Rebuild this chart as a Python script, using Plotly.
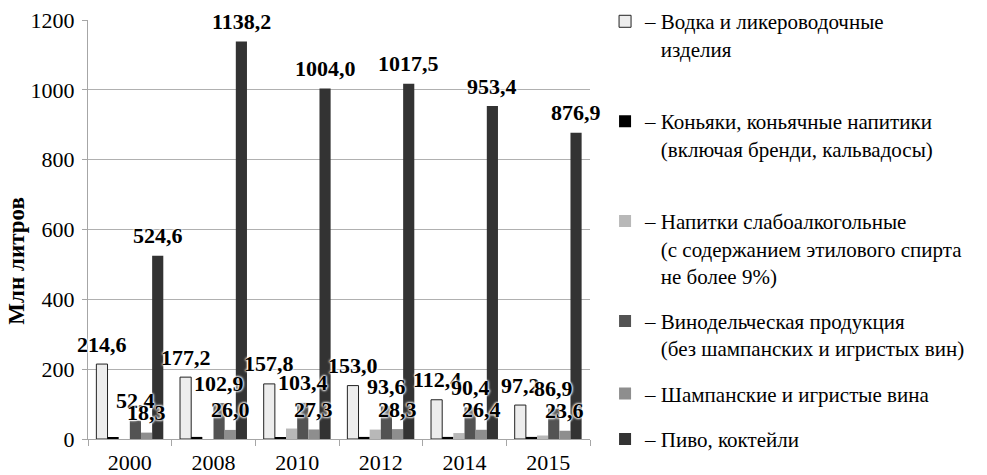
import plotly.graph_objects as go

years = ["2000", "2008", "2010", "2012", "2014", "2015"]
vodka = [214.6, 177.2, 157.8, 153.0, 112.4, 97.2]
cognac = [3, 6, 4, 6, 6, 6]
light = [0, 0, 30, 27, 17, 10]
wine = [52.4, 102.9, 103.4, 93.6, 90.4, 86.9]
champagne = [18.3, 26.0, 27.3, 28.3, 26.4, 23.6]
beer = [524.6, 1138.2, 1004.0, 1017.5, 953.4, 876.9]

IND = "\u00a0\u00a0\u00a0"
names = [
    "–\u00a0Водка и ликероводочные<br>" + IND + "изделия<br>\u00a0",
    "–\u00a0Коньяки, коньячные напитики<br>" + IND + "(включая бренди, кальвадосы)<br>\u00a0",
    "–\u00a0Напитки слабоалкогольные<br>" + IND + "(с содержанием этилового спирта<br>" + IND + "не более 9%)",
    "–\u00a0Винодельческая продукция<br>" + IND + "(без шампанских и игристых вин)",
    "–\u00a0Шампанские и игристые вина",
    "–\u00a0Пиво, коктейли",
]
series = [vodka, cognac, light, wine, champagne, beer]
colors = ["#ededed", "#000000", "#b8b8b8", "#535353", "#8e8e8e", "#333333"]
line_w = [1, 0, 0, 0, 0, 0]
labelled = [0, 3, 4, 5]

FONT = "Liberation Serif"
bargap = 0.2

fig = go.Figure()
for k, (nm, vals, c, lw) in enumerate(zip(names, series, colors, line_w)):
    fig.add_trace(go.Bar(
        x=years, y=vals, name=nm, legendgroup=str(k),
        marker=dict(color=c, line=dict(color="#222222", width=lw)),
    ))

w = (1 - bargap) / 6
annotations = []
for k in labelled:
    for i, v in enumerate(series[k]):
        annotations.append(dict(
            x=i + (k - 2.5) * w, y=v, xref="x", yref="y",
            text=f"{v:.1f}".replace(".", ","), showarrow=False,
            yanchor="middle", xanchor="center", yshift=20,
            font=dict(family=FONT, size=22, color="#000000", weight="bold",
                      shadow="white 0px 0px 2px, white 0px 0px 2px, white 0px 0px 3px, white 0px 0px 3px"),
        ))

annotations.append(dict(
    x=-0.142, y=0.425, xref="paper", yref="paper", text="Млн литров",
    showarrow=False, textangle=-90, xanchor="center", yanchor="middle",
    font=dict(family=FONT, size=23, color="#000000", weight="bold"),
))

fig.update_layout(
    width=987, height=475, autosize=False,
    margin=dict(l=88, r=397, t=20, b=36, autoexpand=False),
    paper_bgcolor="white", plot_bgcolor="white",
    barmode="group", bargap=bargap, bargroupgap=0,
    font=dict(family=FONT, color="#000000", size=21),
    annotations=annotations,
    legend=dict(
        x=1.03, xanchor="left", y=1.045, yanchor="top",
        font=dict(family=FONT, size=21, color="#000000"),
        valign="top", tracegroupgap=15, traceorder="grouped",
        bgcolor="rgba(0,0,0,0)", maxheight=475,
    ),
    xaxis=dict(
        type="category", range=[-0.5, 5.5], autorange=False,
        showgrid=False, showline=True, linecolor="#a6a6a6", linewidth=1,
        ticks="outside", tickson="boundaries", ticklen=6, tickcolor="#a6a6a6",
        tickfont=dict(family=FONT, size=22), automargin=False, ticklabelstandoff=4,
    ),
    yaxis=dict(
        range=[0, 1200], autorange=False, tickvals=[0, 200, 400, 600, 800, 1000, 1200],
        showgrid=True, gridcolor="#b0b0b0", gridwidth=1,
        showline=True, linecolor="#a6a6a6", linewidth=1,
        ticks="outside", ticklen=5, tickcolor="#a6a6a6",
        tickfont=dict(family=FONT, size=22), zeroline=False, automargin=False,
        ticklabelstandoff=3,
    ),
)

fig.write_html("out.html", config={"displayModeBar": False},
               post_script="document.body.style.margin='0';")
